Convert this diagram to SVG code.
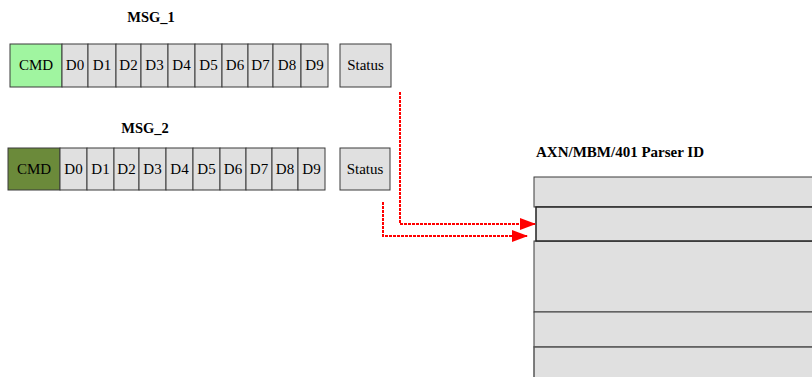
<svg xmlns="http://www.w3.org/2000/svg" width="812" height="377" viewBox="0 0 812 377" font-family="'Liberation Serif', 'DejaVu Serif', serif">
<defs>
<style>
.cell{fill:#e0e0e0;stroke:#3a3a3a;stroke-width:1}
text{font-family:'Liberation Serif','DejaVu Serif',serif;fill:#000}
.t{font-size:15px;text-anchor:middle}
.h{font-size:14.5px;font-weight:bold}
.conn{fill:none;stroke:#ff0000;stroke-width:2;stroke-dasharray:3,1}
</style>
<marker id="ah" markerWidth="16" markerHeight="12" refX="15" refY="6" orient="auto" markerUnits="userSpaceOnUse">
<path d="M0,0 L16,6 L0,12 Z" fill="#ff0000"/>
</marker>
</defs>

<g id="msg1">
<text class="h" x="151" y="22" text-anchor="middle">MSG_1</text>
<rect x="10" y="44" width="52" height="43" fill="#a0f5a0" stroke="#3a3a3a"/>
<text class="t" x="36" y="70">CMD</text>
<rect class="cell" x="62" y="44" width="26" height="43"/><text class="t" x="75" y="70">D0</text>
<rect class="cell" x="88" y="44" width="28" height="43"/><text class="t" x="102" y="70">D1</text>
<rect class="cell" x="116" y="44" width="25" height="43"/><text class="t" x="128.5" y="70">D2</text>
<rect class="cell" x="141" y="44" width="27" height="43"/><text class="t" x="154.5" y="70">D3</text>
<rect class="cell" x="168" y="44" width="27" height="43"/><text class="t" x="181.5" y="70">D4</text>
<rect class="cell" x="195" y="44" width="27" height="43"/><text class="t" x="208.5" y="70">D5</text>
<rect class="cell" x="222" y="44" width="26" height="43"/><text class="t" x="235" y="70">D6</text>
<rect class="cell" x="248" y="44" width="25" height="43"/><text class="t" x="260.5" y="70">D7</text>
<rect class="cell" x="273" y="44" width="28" height="43"/><text class="t" x="287" y="70">D8</text>
<rect class="cell" x="301" y="44" width="27" height="43"/><text class="t" x="314.5" y="70">D9</text>
</g>
<g id="status1">
<rect class="cell" x="340" y="44" width="51" height="43"/><text class="t" x="365.5" y="70">Status</text>
</g>

<g id="msg2">
<text class="h" x="145" y="133" text-anchor="middle">MSG_2</text>
<rect x="8" y="148" width="52" height="42" fill="#6b8a3a" stroke="#3a3a3a"/>
<text class="t" x="34" y="174">CMD</text>
<rect class="cell" x="60" y="148" width="27" height="42"/><text class="t" x="73.5" y="174">D0</text>
<rect class="cell" x="87" y="148" width="27" height="42"/><text class="t" x="100.5" y="174">D1</text>
<rect class="cell" x="114" y="148" width="25" height="42"/><text class="t" x="126.5" y="174">D2</text>
<rect class="cell" x="139" y="148" width="27" height="42"/><text class="t" x="152.5" y="174">D3</text>
<rect class="cell" x="166" y="148" width="27" height="42"/><text class="t" x="179.5" y="174">D4</text>
<rect class="cell" x="193" y="148" width="27" height="42"/><text class="t" x="206.5" y="174">D5</text>
<rect class="cell" x="220" y="148" width="26" height="42"/><text class="t" x="233" y="174">D6</text>
<rect class="cell" x="246" y="148" width="26" height="42"/><text class="t" x="259" y="174">D7</text>
<rect class="cell" x="272" y="148" width="26" height="42"/><text class="t" x="285" y="174">D8</text>
<rect class="cell" x="298" y="148" width="27" height="42"/><text class="t" x="311.5" y="174">D9</text>
</g>
<g id="status2">
<rect class="cell" x="340" y="148" width="50" height="42"/><text class="t" x="365" y="174">Status</text>
</g>

<g id="parser">
<text class="h" x="536" y="157" style="font-size:15px">AXN/MBM/401 Parser ID</text>
<rect class="cell" x="534" y="177" width="300" height="30"/>
<rect class="cell" x="534" y="241" width="300" height="71"/>
<rect class="cell" x="534" y="312" width="300" height="35"/>
<rect class="cell" x="534" y="347" width="300" height="40" style="stroke:#555;stroke-width:1.5"/>
<rect class="cell" x="536" y="207" width="300" height="34" style="stroke:#222;stroke-width:1.5"/>
</g>

<g id="connectors">
<polyline class="conn" points="400,92 400,224 535,224" marker-end="url(#ah)"/>
<polyline class="conn" points="383,202 383,236 527,236" marker-end="url(#ah)"/>
</g>
</svg>
